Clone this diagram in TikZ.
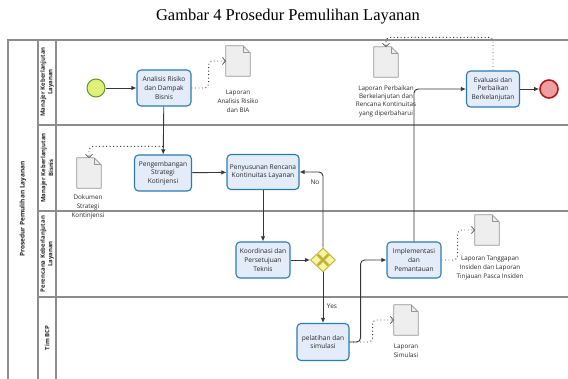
\documentclass[tikz,border=0pt]{standalone}
\usepackage{fontspec}
\setmainfont{Liberation Serif}
\newfontfamily\diafont{Open Sans}
\usetikzlibrary{arrows.meta,calc,shapes.geometric}

\definecolor{boxfill}{RGB}{228,236,250}
\definecolor{boxdraw}{RGB}{44,124,176}
\definecolor{poolline}{RGB}{140,140,140}
\definecolor{flowline}{RGB}{55,55,55}
\definecolor{docfill}{RGB}{238,238,238}
\definecolor{docdraw}{RGB}{150,150,150}
\definecolor{startfill}{RGB}{222,240,120}
\definecolor{startdraw}{RGB}{100,150,40}
\definecolor{endfill}{RGB}{238,160,160}
\definecolor{enddraw}{RGB}{175,25,25}
\definecolor{gwfill}{RGB}{248,244,165}
\definecolor{gwdraw}{RGB}{195,185,60}
\definecolor{gwmark}{RGB}{190,180,55}
\definecolor{txt}{RGB}{40,40,40}

\tikzset{
  x=1pt, y=-1pt,
  task/.style={draw=boxdraw, fill=boxfill, line width=1.1pt, rounded corners=4pt,
    minimum width=54pt, minimum height=36pt, inner sep=1pt, align=center,
    font=\diafont\fontsize{6.6}{8.7}\selectfont, text=txt},
  docbox/.style={minimum width=24pt, minimum height=30pt, inner sep=0pt},
  docline/.style={draw=docdraw, fill=docfill, line width=0.7pt, line join=round},
  doclabel/.style={align=center, inner sep=0pt, font=\diafont\fontsize{6.3}{8.8}\selectfont, text=txt},
  flow/.style={draw=flowline, line width=0.9pt, rounded corners=4pt,
    -{Latex[length=5pt,width=4.5pt]}},
  assoc/.style={draw=flowline, line width=0.9pt, dash pattern=on 0.9pt off 2.6pt,
    rounded corners=4pt, -{Straight Barb[length=3pt,width=7pt,line width=0.6pt]}},
  pool/.style={draw=poolline, line width=1.1pt},
  lanelabel/.style={rotate=90, align=center, inner sep=0pt,
    font=\diafont\bfseries\fontsize{6}{7.6}\selectfont, text=txt},
  flowlabel/.style={inner sep=0pt, font=\diafont\fontsize{6.5}{8}\selectfont, text=txt},
}

% document symbol: folded sheet drawn around a named placeholder node
\newcommand\docsymbol[2]{%
  \node[docbox] (#1) at (#2) {};
  \draw[docline] (#1.north west) -- ([xshift=-7pt]#1.north east)
    -- ([yshift=-7pt]#1.north east) -- (#1.south east) -- (#1.south west) -- cycle;
  \draw[docline, fill=none] ([xshift=-7pt]#1.north east) |- ([yshift=-7pt]#1.north east);
}

\begin{document}
\begin{tikzpicture}
\useasboundingbox (0,0) rectangle (568,379);
\fill[white] (0,0) rectangle (568,379);

% caption
\node[font=\fontsize{16.5}{19}\selectfont] (title) at (288,17) {Gambar 4 Prosedur Pemulihan Layanan};

% pool and lanes
\draw[pool] (568,40) -- (8,40) -- (8,379);
\draw[pool] (38,40) -- (38,379);
\draw[pool] (56,40) -- (56,379);
\draw[pool] (38,125) -- (568,125);
\draw[pool] (38,211) -- (568,211);
\draw[pool] (38,297) -- (568,297);

\node[lanelabel, font=\diafont\bfseries\fontsize{6.5}{8}\selectfont] (poolname) at (23,209) {Prosedur Pemulihan Layanan};
\node[lanelabel] (lane1) at (47,82) {Manajer Keberlanjutan\\Layanan};
\node[lanelabel] (lane2) at (47,168) {Manajer Keberlanjutan\\Bisnis};
\node[lanelabel] (lane3) at (47,254) {Perencana Keberlanjutan\\Layanan};
\node[lanelabel] (lane4) at (47,338) {Tim BCP};

% events
\node[circle, draw=startdraw, fill=startfill, line width=1pt, minimum size=18pt, inner sep=0pt] (start) at (96,88) {};
\node[circle, draw=enddraw, fill=endfill, line width=1.6pt, minimum size=18pt, inner sep=0pt] (finish) at (549,89) {};

% tasks
\node[task] (ana) at (164,88) {Analisis Risiko\\dan Dampak\\Bisnis};
\node[task, minimum width=57pt] (peng) at (163,173) {Pengembangan\\Strategi\\Kotinjensi};
\node[task, minimum width=72pt, minimum height=35pt] (peny) at (263,172) {Penyusunan Rencana\\Kontinuitas Layanan};
\node[task] (koor) at (263,260) {Koordinasi dan\\Persetujuan\\Teknis};
\node[task, minimum width=52pt, minimum height=37pt] (pel) at (323,342) {pelatihan dan\\simulasi};
\node[task] (impl) at (414,260) {Implementasi\\dan\\Pemantauan};
\node[task, minimum width=53pt] (eval) at (493,89) {Evaluasi dan\\Perbaikan\\Berkelanjutan};

% exclusive gateway
\node[diamond, draw=gwdraw, fill=gwfill, line width=1pt, minimum width=25pt, minimum height=24pt, inner sep=0pt] (gw) at (323,260) {};
\draw[gwmark, line width=2.8pt] ($(gw)+(-5.5,-5.5)$) -- ($(gw)+(5.5,5.5)$) ($(gw)+(-5.5,5.5)$) -- ($(gw)+(5.5,-5.5)$);

% data objects
\docsymbol{lar}{238,61}
\node[doclabel] (larl) at (238,101) {Laporan\\Analisis Risiko\\dan BIA};
\docsymbol{dok}{89,173}
\node[doclabel] (dokl) at (88,207) {Dokumen\\Strategi\\Kontinjensi};
\docsymbol{lpb}{386,62}
\node[doclabel, font=\diafont\fontsize{6.3}{8.4}\selectfont] (lpbl) at (386,101) {Laporan Perbaikan\\Berkelanjutan dan\\Rencana Kontinuitas\\yang diperbaharui};
\docsymbol{ltg}{487,230}
\node[doclabel] (ltgl) at (490,268) {Laporan Tanggapan\\Insiden dan Laporan\\Tinjauan Pasca Insiden};
\docsymbol{lsim}{406,320}
\node[doclabel] (lsiml) at (406,351) {Laporan\\Simulasi};

% sequence flows
\draw[flow] (start) -- (ana);
\draw[flow] (ana) -- (peng);
\draw[flow] (peng) -- (peny);
\draw[flow] (peny) -- (koor);
\draw[flow] (koor) -- (gw);
\draw[flow] (gw.north) |- (peny.east);
\draw[flow] (gw.south) -- (pel.north);
\draw[flow] (pel.east) -- ++(11,0) |- (impl.west);
\draw[flow] (impl.north) |- (eval.west);
\draw[flow] (eval) -- (finish);

\node[flowlabel] (nolbl) at (315,182) {No};
\node[flowlabel] (yeslbl) at (332,306) {Yes};

% associations
\draw[assoc] (ana.east) -- ++(17,0) |- (lar.west);
\draw[assoc] ($(peng.north)+(0,-8)$) -| (dok.north);
\draw[assoc] (eval.north) -- ++(0,-33) -| (lpb.north);
\draw[assoc] (impl.east) -- ++(16,0) |- (ltg.west);
\draw[assoc] (pel.east) -- ++(23,0) |- (lsim.west);
\end{tikzpicture}
\end{document}
